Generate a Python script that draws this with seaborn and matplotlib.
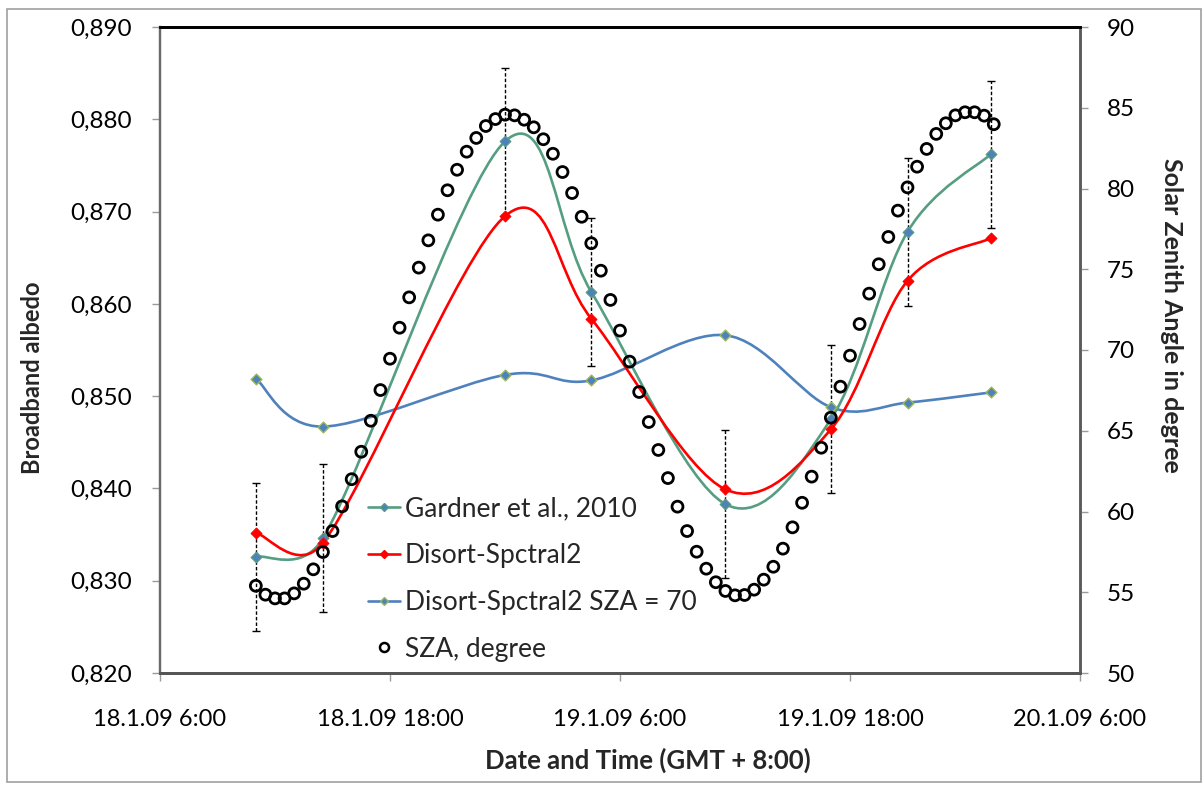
import numpy as np
import pandas as pd
import matplotlib
matplotlib.use("Agg")
import matplotlib.pyplot as plt
import matplotlib.dates as mdates
import seaborn as sns
from matplotlib.path import Path
from matplotlib.patches import PathPatch, Rectangle
from matplotlib.lines import Line2D
from matplotlib.ticker import FuncFormatter, MultipleLocator

# ---------------- data ----------------
obs_times = ["2009-01-18 11:00", "2009-01-18 14:30", "2009-01-19 00:00", "2009-01-19 04:30",
             "2009-01-19 11:30", "2009-01-19 17:00", "2009-01-19 21:00", "2009-01-20 01:20"]
gardner = [0.8326, 0.8346, 0.8776, 0.8613, 0.8383, 0.8475, 0.8678, 0.8762]
disort = [0.8352, 0.8341, 0.8695, 0.8584, 0.8399, 0.8464, 0.8625, 0.8671]
disort_sza70 = [0.8519, 0.8467, 0.8523, 0.8517, 0.8566, 0.8488, 0.8493, 0.8504]
gardner_err = [0.008, 0.008, 0.008, 0.008, 0.008, 0.008, 0.008, 0.008]

sza_start = "2009-01-18 11:00"
sza = [55.4, 54.85, 54.62, 54.62, 54.93, 55.53, 56.42, 57.49, 58.79, 60.32,
       62.0, 63.70, 65.62, 67.52, 69.46, 71.38, 73.26, 75.10, 76.79, 78.38,
       79.89, 81.16, 82.28, 83.13, 83.87, 84.30, 84.57, 84.53, 84.26, 83.79,
       83.05, 82.15, 81.02, 79.72, 78.25, 76.61, 74.91, 73.10, 71.2, 69.28,
       67.4, 65.54, 63.81, 62.07, 60.30, 58.79, 57.51, 56.46, 55.62, 55.08,
       54.81, 54.83, 55.16, 55.78, 56.58, 57.70, 59.02, 60.54, 62.16, 63.95,
       65.81, 67.73, 69.65, 71.61, 73.49, 75.31, 77.0, 78.63, 80.07, 81.35,
       82.45, 83.38, 84.04, 84.53, 84.72, 84.72, 84.51, 83.98]

series_labels = ["Gardner et al., 2010", "Disort-Spctral2", "Disort-Spctral2 SZA = 70", "SZA, degree"]
xtick_times = ["2009-01-18 06:00", "2009-01-18 18:00", "2009-01-19 06:00",
               "2009-01-19 18:00", "2009-01-20 06:00"]

# ---------------- style ----------------
sns.set_style("ticks")
plt.rcParams["font.family"] = ["Lato", "DejaVu Sans"]

C_TEAL = "#559E82"
C_RED = "#FF0000"
C_BLUE = "#4F81BD"
C_GREEN = "#9BBB59"

t_obs = pd.to_datetime(obs_times)
t_sza = pd.date_range(sza_start, periods=len(sza), freq="30min")
df = pd.DataFrame({"time": t_obs, "gardner": gardner, "disort": disort, "sza70": disort_sza70})
dsza = pd.DataFrame({"time": t_sza, "sza": sza})

W, H = 1204, 785
fig = plt.figure(figsize=(W / 100, H / 100), dpi=100)
L, R, T, B = 160, 1080, 27, 673
ax = fig.add_axes([L / W, 1 - B / H, (R - L) / W, (B - T) / H])

# outer chart border
fig.patches.append(Rectangle((7 / W, 3 / H), 1194 / W, 773 / H, transform=fig.transFigure,
                             fill=False, edgecolor="#A0A0A0", lw=1.2))

XMIN, XMAX = pd.Timestamp("2009-01-18 06:00"), pd.Timestamp("2009-01-20 06:00")
ax.set_xlim(XMIN, XMAX)
ax.set_ylim(0.82, 0.89)


def smooth_path(axes, xs, ys, k=0.6):
    """Excel-like smoothed line: cubic Bezier segments through the points,
    control arms computed in screen space and limited relative to the chord."""
    pts = axes.transData.transform(np.column_stack([xs, ys]))
    n = len(pts)
    verts = [pts[0]]
    codes = [Path.MOVETO]
    for i in range(n - 1):
        a = i - 1 if i > 0 else i
        d = i + 2 if i + 2 < n else i + 1
        p1, p2 = pts[i], pts[i + 1]
        chord = np.hypot(*(p2 - p1))
        t1 = (pts[i + 1] - pts[a]) / 6.0
        t2 = (pts[d] - pts[i]) / 6.0
        for t in (t1, t2):
            ln = np.hypot(*t)
            if ln > k * chord and ln > 0:
                t *= k * chord / ln
        verts += [p1 + t1, p2 - t2, p2]
        codes += [Path.CURVE4] * 3
    data_verts = axes.transData.inverted().transform(np.array(verts))
    return Path(data_verts, codes)


xnum = mdates.date2num(t_obs.to_pydatetime())

# error bars (dotted) on Gardner
eb = ax.errorbar(t_obs, gardner, yerr=gardner_err, fmt="none", ecolor="black",
                 elinewidth=1.0, capsize=3, capthick=1.0, zorder=2)
eb[2][0].set_linestyle((0, (2.5, 1.5)))

ax.set_xlim(XMIN, XMAX)
ax.set_ylim(0.82, 0.89)

for vals, col in [(disort_sza70, C_BLUE), (gardner, C_TEAL), (disort, C_RED)]:
    ax.add_patch(PathPatch(smooth_path(ax, xnum, vals), facecolor="none", edgecolor=col,
                           lw=1.9, zorder=3))

sns.scatterplot(data=df, x="time", y="sza70", marker="D", s=30, color=C_BLUE,
                edgecolor=C_GREEN, linewidth=1.0, ax=ax, zorder=4)
sns.scatterplot(data=df, x="time", y="gardner", marker="D", s=30, color=C_BLUE,
                edgecolor=C_TEAL, linewidth=0.8, ax=ax, zorder=4)
sns.scatterplot(data=df, x="time", y="disort", marker="D", s=30, color=C_RED,
                edgecolor=C_RED, linewidth=0.8, ax=ax, zorder=4)

ax.set_xlim(XMIN, XMAX)
ax.set_ylim(0.82, 0.89)
ax.yaxis.set_major_locator(MultipleLocator(0.01))
ax.yaxis.set_major_formatter(FuncFormatter(lambda v, p: f"{v:.3f}".replace(".", ",")))
ax.set_xticks(pd.to_datetime(xtick_times))


def fmt_date(v, p):
    d = mdates.num2date(v)
    return f"{d.day}.{d.month}.{d:%y} {d.hour}:{d:%M}"


ax.xaxis.set_major_formatter(FuncFormatter(fmt_date))
ax.set_xlabel("")
ax.set_ylabel("")

# secondary axis: SZA
ax2 = ax.twinx()
sns.scatterplot(data=dsza, x="time", y="sza", marker="o", s=62, facecolor="none",
                edgecolor="black", linewidth=2.0, ax=ax2, zorder=5)
ax2.set_ylim(50, 90)
ax2.yaxis.set_major_locator(MultipleLocator(5))
ax2.set_ylabel("")
ax2.set_xlim(XMIN, XMAX)

# spines / ticks
for a in (ax, ax2):
    for s in a.spines.values():
        s.set_visible(True)
    a.spines["top"].set_color("black")
    a.spines["top"].set_linewidth(2.0)
    a.spines["left"].set_color("#6A6A6A")
    a.spines["left"].set_linewidth(1.6)
    a.spines["right"].set_color("#5A5A5A")
    a.spines["right"].set_linewidth(1.8)
    a.spines["bottom"].set_color("#555555")
    a.spines["bottom"].set_linewidth(2.0)

ax.tick_params(axis="y", direction="out", length=6, width=1, color="#9A9A9A",
               labelsize=17.5, pad=14, labelcolor="black")
ax.tick_params(axis="x", direction="out", length=6, width=1, color="#9A9A9A",
               labelsize=17, pad=20, labelcolor="black")
ax2.tick_params(axis="y", direction="out", length=6, width=1, color="#9A9A9A",
                labelsize=17.5, pad=13, labelcolor="black")

# axis titles
fig.text(648 / W, 1 - 760 / H, "Date and Time (GMT + 8:00)", ha="center", va="center",
         fontsize=18.5, fontweight="bold")
fig.text(33 / W, 1 - 378 / H, "Broadband albedo", ha="center", va="center",
         rotation=90, fontsize=17, fontweight="bold")
fig.text(1172 / W, 1 - 315 / H, "Solar Zenith Angle in degree", ha="center", va="center",
         rotation=270, fontsize=18, fontweight="bold")

# legend
handles = [
    Line2D([], [], color=C_TEAL, lw=1.9, marker="D", markersize=4.5,
           markerfacecolor=C_BLUE, markeredgecolor=C_TEAL),
    Line2D([], [], color=C_RED, lw=1.9, marker="D", markersize=4.5,
           markerfacecolor=C_RED, markeredgecolor=C_RED),
    Line2D([], [], color=C_BLUE, lw=1.9, marker="D", markersize=4.5,
           markerfacecolor=C_BLUE, markeredgecolor=C_GREEN),
    Line2D([], [], color="none", lw=0, marker="o", markersize=6.5,
           markerfacecolor="none", markeredgecolor="black", markeredgewidth=1.8),
]
leg = ax2.legend(handles, series_labels, loc="upper left",
                 bbox_to_anchor=(368 / W, 1 - 496 / H), bbox_transform=fig.transFigure,
                 frameon=False, fontsize=19, handlelength=1.2, handletextpad=0.2,
                 labelspacing=0.83, borderpad=0, borderaxespad=0)
leg.set_zorder(10)

fig.savefig("out.png", dpi=100)
